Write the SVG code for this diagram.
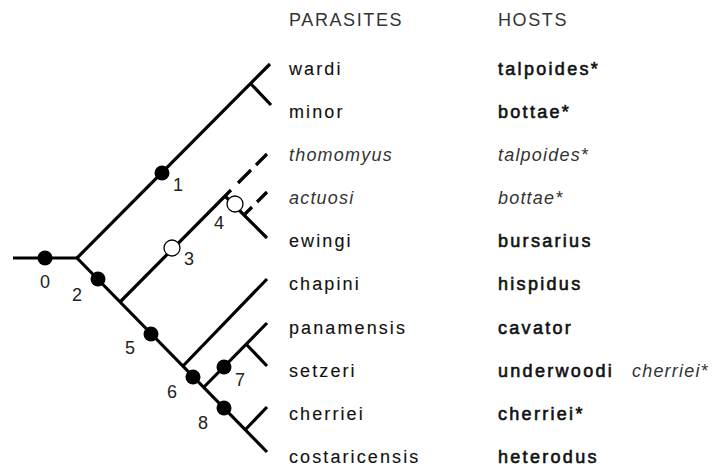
<svg xmlns="http://www.w3.org/2000/svg" width="712" height="470" viewBox="0 0 712 470">
<style>
  .br{stroke:#000;stroke-width:3.2;fill:none;stroke-linecap:butt}
  .dot{fill:#000}
  .odot{fill:#fff;stroke:#000;stroke-width:1.3}
  text{font-family:"Liberation Sans",Arial,sans-serif;font-size:18px;fill:#111}
  .hd{letter-spacing:1.6px;fill:#333}
  .par{letter-spacing:2.1px;stroke:#111;stroke-width:0.12}
  .host{letter-spacing:2.3px;stroke:#111;stroke-width:0.6}
  .it{font-style:italic;fill:#333;letter-spacing:1.2px}
  .num{fill:#222;text-anchor:middle}
</style>
<rect width="712" height="470" fill="#fff"/>
<g id="headers">
  <text class="hd" x="289" y="26">PARASITES</text>
  <text class="hd" x="498" y="26">HOSTS</text>
</g>
<g id="connectors">
  <path class="br" d="M13,258 H77"/>
  <path class="br" d="M77,258 L270,64"/>
  <path class="br" d="M251,84 L271,105"/>
  <path class="br" d="M77,258 L267,452"/>
  <path class="br" d="M120,302 L231,190"/>
  <path class="br" d="M238,183 L251,170 M256,165 L267,154"/>
  <path class="br" d="M225,196 L267,238"/>
  <path class="br" d="M245,214 L252,207 M257,202 L267,192"/>
  <path class="br" d="M183,366 L267,279"/>
  <path class="br" d="M204,387 L267,323"/>
  <path class="br" d="M246,344 L267,366"/>
  <path class="br" d="M245,430 L267,407"/>
</g>
<g id="n0"><circle class="dot" cx="45" cy="258" r="7.5"/><text class="num" x="45" y="288">0</text></g>
<g id="n1"><circle class="dot" cx="162" cy="173" r="7.5"/><text class="num" x="178" y="191">1</text></g>
<g id="n2"><circle class="dot" cx="98" cy="279" r="7.5"/><text class="num" x="77" y="301">2</text></g>
<g id="n3"><circle class="odot" cx="172" cy="248" r="8"/><text class="num" x="189" y="265">3</text></g>
<g id="n4"><circle class="odot" cx="235" cy="204" r="8"/><text class="num" x="219" y="229">4</text></g>
<g id="n5"><circle class="dot" cx="151" cy="334" r="7.5"/><text class="num" x="130" y="354">5</text></g>
<g id="n6"><circle class="dot" cx="193" cy="377" r="7.5"/><text class="num" x="172" y="398">6</text></g>
<g id="n7"><circle class="dot" cx="224" cy="367" r="7.5"/><text class="num" x="240" y="386">7</text></g>
<g id="n8"><circle class="dot" cx="224" cy="408" r="7.5"/><text class="num" x="203" y="429">8</text></g>
<g id="wardi"><text class="par" x="289" y="75">wardi</text><text class="host" x="498" y="75">talpoides*</text></g>
<g id="minor"><text class="par" x="289" y="118">minor</text><text class="host" x="498" y="118">bottae*</text></g>
<g id="thomomyus"><text class="it" x="289" y="161">thomomyus</text><text class="it" x="498" y="161">talpoides*</text></g>
<g id="actuosi"><text class="it" x="289" y="204">actuosi</text><text class="it" x="498" y="204">bottae*</text></g>
<g id="ewingi"><text class="par" x="289" y="247">ewingi</text><text class="host" x="498" y="247">bursarius</text></g>
<g id="chapini"><text class="par" x="289" y="290">chapini</text><text class="host" x="498" y="290">hispidus</text></g>
<g id="panamensis"><text class="par" x="289" y="334">panamensis</text><text class="host" x="498" y="334">cavator</text></g>
<g id="setzeri"><text class="par" x="289" y="377">setzeri</text><text class="host" x="498" y="377">underwoodi</text><text class="it" x="632" y="377">cherriei*</text></g>
<g id="cherriei"><text class="par" x="289" y="420">cherriei</text><text class="host" x="498" y="420">cherriei*</text></g>
<g id="costaricensis"><text class="par" x="289" y="463">costaricensis</text><text class="host" x="498" y="463">heterodus</text></g>
</svg>
